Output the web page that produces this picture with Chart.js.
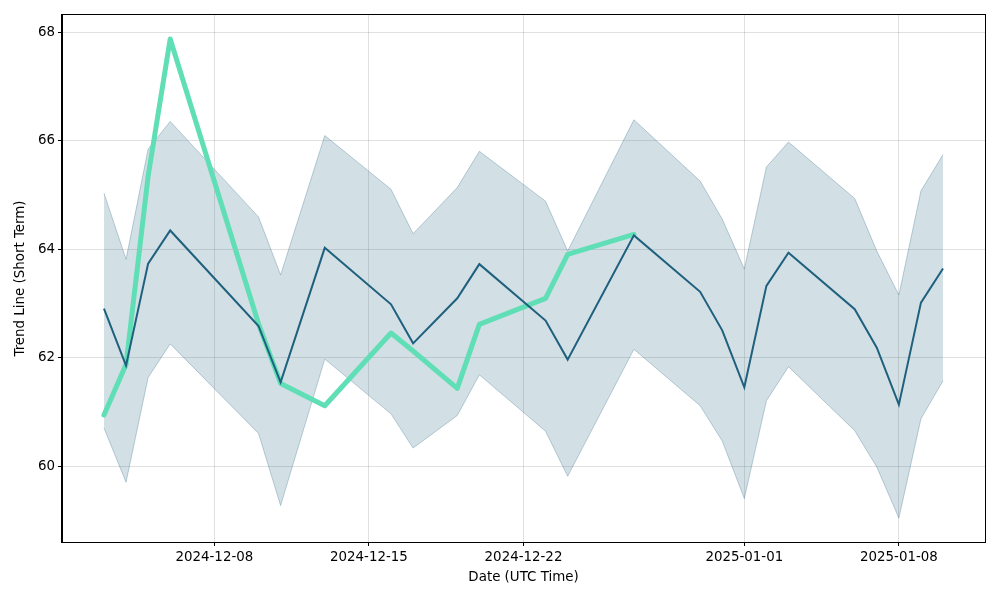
<!DOCTYPE html>
<html>
<head>
<meta charset="utf-8">
<script src="https://cdn.jsdelivr.net/npm/chart.js@4.4.1/dist/chart.umd.min.js"></script>
<style>
  body { margin: 0; background: #fff; }
  #wrap { width: 1000px; height: 600px; }
</style>
</head>
<body>
<div id="wrap"><canvas id="myChart" width="1000" height="600"></canvas></div>
<script>
let dates = ['2024-12-03','2024-12-04','2024-12-05','2024-12-06','2024-12-10','2024-12-11',
  '2024-12-13','2024-12-16','2024-12-17','2024-12-19','2024-12-20','2024-12-23','2024-12-24',
  '2024-12-27','2024-12-30','2024-12-31','2025-01-01','2025-01-02','2025-01-03','2025-01-06',
  '2025-01-07','2025-01-08','2025-01-09','2025-01-10'];

let trend = [62.91, 61.86, 63.74, 64.35, 62.59, 61.55, 64.03, 62.99, 62.27, 63.10, 63.73, 62.69,
  61.97, 64.26, 63.22, 62.51, 61.46, 63.33, 63.94, 62.90, 62.19, 61.14, 63.02, 63.65];
let upper = [65.04, 63.82, 65.85, 66.36, 64.60, 63.53, 66.10, 65.11, 64.29, 65.14, 65.81, 64.89,
  63.97, 66.39, 65.26, 64.56, 63.64, 65.52, 65.98, 64.94, 63.97, 63.16, 65.08, 65.75];
let lower = [60.71, 59.71, 61.64, 62.26, 60.61, 59.28, 61.98, 60.97, 60.34, 60.94, 61.69, 60.65,
  59.82, 62.16, 61.12, 60.47, 59.41, 61.21, 61.84, 60.66, 59.99, 59.05, 60.88, 61.58];
// short term line only runs up to 2024-12-27
let shortTerm = [60.95, 61.88, 65.35, 67.88, 62.63, 61.53, 61.12, 62.46, 62.13, 61.44, 62.62, 63.10,
  63.91, 64.28, null, null, null, null, null, null, null, null, null, null];

let xTickLabels = ['2024-12-08','2024-12-15','2024-12-22','2025-01-01','2025-01-08'];
let yTicks = [60, 62, 64, 66, 68];

function toDay(s) {
  let p = s.split('-');
  return Date.UTC(+p[0], +p[1] - 1, +p[2]) / 86400000;
}
function dayLabel(d) {
  return new Date(d * 86400000).toISOString().slice(0, 10);
}

let xs = dates.map(toDay);
let xMin = Math.min(...xs), xMax = Math.max(...xs);
let xPad = (xMax - xMin) * 0.05;
let allY = upper.concat(lower, shortTerm.filter(v => v !== null));
let yLo = Math.min(...allY), yHi = Math.max(...allY);
let yPad = (yHi - yLo) * 0.05;

function pts(arr) {
  return arr.map((v, i) => ({x: xs[i], y: v}));
}

const FONT = {family: 'DejaVu Sans', size: 13.4};

const frame = {
  id: 'frame',
  afterDraw(chart) {
    let a = chart.chartArea, c = chart.ctx;
    c.save();
    c.strokeStyle = '#000';
    c.lineWidth = 1;
    c.strokeRect(Math.round(a.left) - 0.5, Math.round(a.top) - 0.5,
      Math.round(a.right - a.left) + 1, Math.round(a.bottom - a.top) + 1);
    c.restore();
  }
};

let ctx = document.getElementById('myChart');
let myChart = new Chart(ctx, {
  type: 'line',
  data: {
    datasets: [
      {
        label: 'upper',
        data: pts(upper),
        borderColor: 'rgba(31,95,127,0.28)',
        borderWidth: 1,
        backgroundColor: 'rgba(31,95,127,0.2)',
        pointRadius: 0,
        fill: '+1',
        tension: 0,
        order: 3
      },
      {
        label: 'lower',
        data: pts(lower),
        borderColor: 'rgba(31,95,127,0.28)',
        borderWidth: 1,
        pointRadius: 0,
        fill: false,
        tension: 0,
        order: 3
      },
      {
        label: 'short term',
        data: pts(shortTerm),
        borderColor: 'rgb(96,222,182)',
        borderWidth: 5,
        borderCapStyle: 'round',
        borderJoinStyle: 'round',
        pointRadius: 0,
        fill: false,
        spanGaps: false,
        tension: 0,
        order: 2
      },
      {
        label: 'trend',
        data: pts(trend),
        borderColor: 'rgb(30,96,125)',
        borderWidth: 2,
        pointRadius: 0,
        fill: false,
        tension: 0,
        order: 1
      }
    ]
  },
  options: {
    responsive: false,
    animation: false,
    devicePixelRatio: 1,
    layout: {padding: {left: 0, right: 15, top: 15, bottom: 0}},
    plugins: {
      legend: {display: false},
      tooltip: {enabled: false}
    },
    scales: {
      x: {
        type: 'linear',
        min: xMin - xPad,
        max: xMax + xPad,
        afterBuildTicks: s => { s.ticks = xTickLabels.map(t => ({value: toDay(t)})); },
        afterFit: s => { s.height = 58; },
        ticks: {
          color: '#000',
          font: FONT,
          padding: 3,
          maxRotation: 0,
          autoSkip: false,
          callback: v => dayLabel(v)
        },
        grid: {color: 'rgba(0,0,0,0.12)', tickColor: '#000', tickLength: 4},
        border: {display: true, color: '#000'},
        title: {display: true, text: 'Date (UTC Time)', color: '#000', font: FONT, padding: {top: 0, bottom: 14}}
      },
      y: {
        min: yLo - yPad,
        max: yHi + yPad,
        afterBuildTicks: s => { s.ticks = yTicks.map(v => ({value: v})); },
        afterFit: s => { s.width = 62; },
        ticks: {color: '#000', font: FONT, padding: 3},
        grid: {color: 'rgba(0,0,0,0.12)', tickColor: '#000', tickLength: 4},
        border: {display: true, color: '#000'},
        title: {display: true, text: 'Trend Line (Short Term)', color: '#000', font: FONT, padding: {top: 12, bottom: 0}}
      }
    }
  },
  plugins: [frame]
});
</script>
</body>
</html>
